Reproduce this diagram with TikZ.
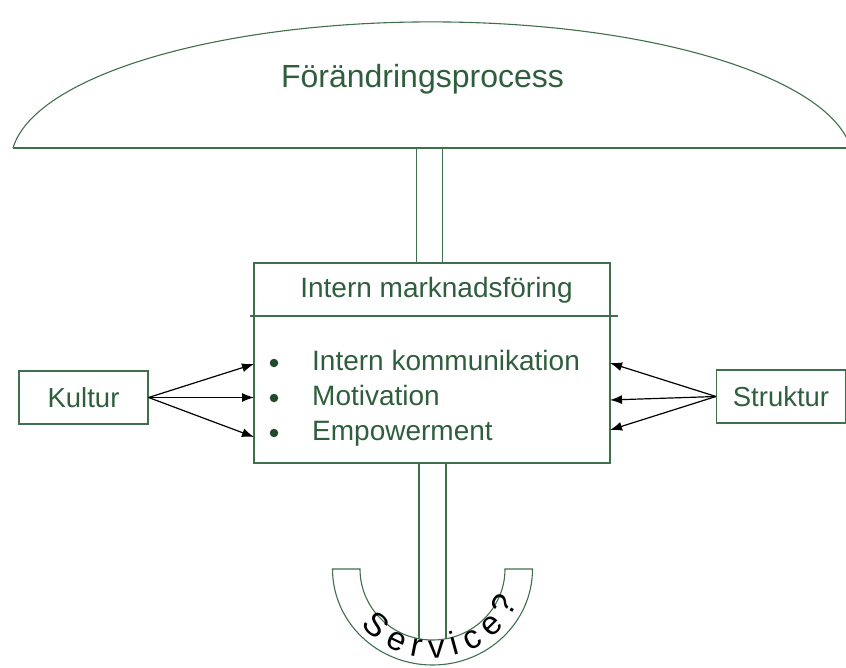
\documentclass[tikz,border=0pt]{standalone}
\usepackage{fontspec}
\setmainfont{Liberation Sans}
\usetikzlibrary{arrows.meta}
\usetikzlibrary{decorations.text}
\definecolor{lineColor}{HTML}{3F6F4C}
\definecolor{textColor}{HTML}{2F5E3D}
\definecolor{dotColor}{HTML}{1F4A2B}
\definecolor{linkColor}{HTML}{000000}
\def\textTitle{Förändringsprocess}
\def\textHead{Intern marknadsföring}
\def\textA{Intern kommunikation}
\def\textB{Motivation}
\def\textC{Empowerment}
\tikzset{
  shapeLine/.style={draw=lineColor, line width=1.1bp},
  sideBox/.style={draw=lineColor, line width=1.1bp, inner sep=0pt,
    minimum width=129bp, minimum height=53bp, text=textColor,
    font=\fontsize{27.5bp}{30bp}\selectfont},
  boxText/.style={inner sep=0pt, text=textColor,
    font=\fontsize{28bp}{31bp}\selectfont},
  linkArrow/.style={draw=linkColor, line width=1.2bp,
    -{Latex[length=12bp,width=9bp]}},
  bulletDot/.style={circle, inner sep=0pt, minimum size=8.5bp, fill=dotColor}
}

\begin{document}
\begin{tikzpicture}[x=1bp,y=-1bp]
\clip (0, 0) rectangle (846, 668);

% umbrella layer
\begin{scope}
\draw[shapeLine] (13, 148) arc[start angle=174.3, end angle=5.7,
x radius=421bp, y radius=140bp];
\draw[shapeLine] (13, 148) -- (860, 148);
\node[boxText, font=\fontsize{32bp}{36bp}\selectfont, anchor=base]
(procTitle) at (422.5, 88) {\textTitle};
% pole
\draw[shapeLine] (416.5, 148) -- (416.5, 263);
\draw[shapeLine] (442.5, 148) -- (442.5, 263);
\draw[shapeLine] (419, 463) -- (419, 639);
\draw[shapeLine] (446, 463) -- (446, 639);
% handle
\draw[shapeLine] (332.5, 569) arc[start angle=180, end angle=360,
x radius=100bp, y radius=96bp] -- (505, 569) arc[start angle=0,
end angle=-180, x radius=72.5bp, y radius=71bp] -- cycle;
\fontsize{33bp}{33bp}\selectfont
\path[decorate, decoration={text along path, text align=fit to path,
text={Service?}}]
(361.0, 624.8) arc[start angle=219, end angle=338,
x radius=92bp, y radius=90bp];
\end{scope}

% box layer
\begin{scope}
\node[shapeLine, rectangle, inner sep=0pt, minimum width=356bp,
minimum height=200bp] (imBox) at (432, 363) {};
\draw[shapeLine] (250, 316) -- (618, 316);
\node[boxText, anchor=base] (imHead) at (436.5, 297) {\textHead};
\node[bulletDot] (dotA) at (274, 363) {};
\node[bulletDot] (dotB) at (274, 398) {};
\node[bulletDot] (dotC) at (274, 433) {};
\node[boxText, anchor=base west] (itemA) at (312, 370) {\textA};
\node[boxText, anchor=base west] (itemB) at (312, 405) {\textB};
\node[boxText, anchor=base west] (itemC) at (312, 440) {\textC};
\node[sideBox] (kultur) at (83.5, 397.5) {Kultur};
\node[sideBox] (struktur) at (781, 396.5) {Struktur};
\end{scope}

% link layer
\begin{scope}
\coordinate (kA) at (254, 364);
\coordinate (kB) at (254, 397.5);
\coordinate (kC) at (254, 437);
\coordinate (sA) at (610, 363);
\coordinate (sB) at (610, 400);
\coordinate (sC) at (610, 430);
\draw[linkArrow] (kultur.east) -- (kA);
\draw[linkArrow] (kultur.east) -- (kB);
\draw[linkArrow] (kultur.east) -- (kC);
\draw[linkArrow] (struktur.west) -- (sA);
\draw[linkArrow] (struktur.west) -- (sB);
\draw[linkArrow] (struktur.west) -- (sC);
\end{scope}

\end{tikzpicture}
\end{document}
